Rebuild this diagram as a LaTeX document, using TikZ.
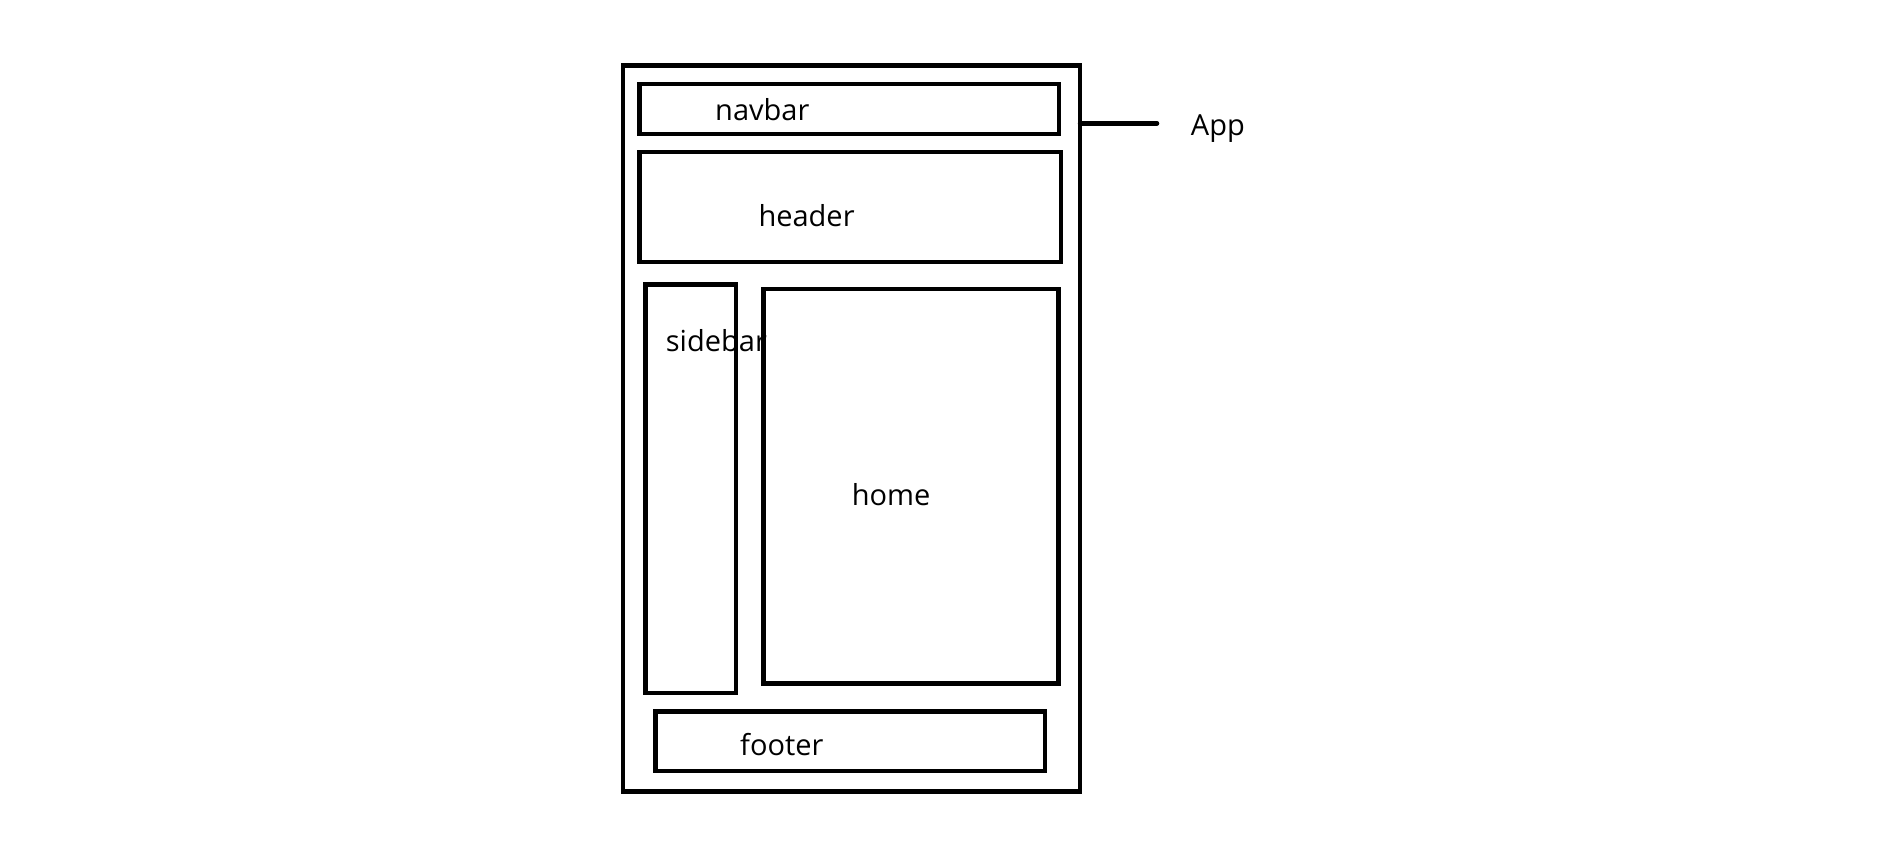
\documentclass[tikz,border=0pt]{standalone}
\usepackage{fontspec}
\setmainfont{Open Sans}
\begin{document}
\begin{tikzpicture}[x=1pt,y=-1pt,
  frame/.style={draw=black, line width=4.5pt, inner sep=0pt, outer sep=0pt, anchor=north west},
  lbl/.style={anchor=base west, inner sep=0pt, font=\fontsize{29}{34}\selectfont}]
  \path[use as bounding box] (0,0) rectangle (1904,863);

  % outer application frame
  \node[frame, minimum width=457pt, minimum height=726.2pt] (app) at (623,65.5) {};
  % inner regions
  \node[frame, minimum width=419.5pt, minimum height=50pt] (navbar) at (639.5,83.8) {};
  \node[frame, minimum width=421.5pt, minimum height=110pt] (header) at (639.5,152.2) {};
  \node[frame, minimum width=90.5pt, minimum height=408.5pt] (sidebar) at (645.5,284.7) {};
  \node[frame, minimum width=294.8pt, minimum height=394.5pt] (home) at (763.5,288.8) {};
  \node[frame, minimum width=389.7pt, minimum height=59.7pt] (footer) at (655.5,711.5) {};

  % region labels
  \node[lbl] (navbarlbl) at (715,120) {navbar};
  \node[lbl] (headerlbl) at (758.3,226.7) {header};
  \node[lbl] (sidebarlbl) at (665.7,351.7) {sidebar};
  \node[lbl] (homelbl) at (851.7,505) {home};
  \node[lbl] (footerlbl) at (740,755) {footer};

  % callout naming the outer frame
  \node[lbl] (applbl) at (1190.7,135) {App};
  \coordinate (append) at (1157,123.3);
  \draw[line width=4.5pt, line cap=round] (app.east |- append) -- (append);
\end{tikzpicture}
\end{document}
